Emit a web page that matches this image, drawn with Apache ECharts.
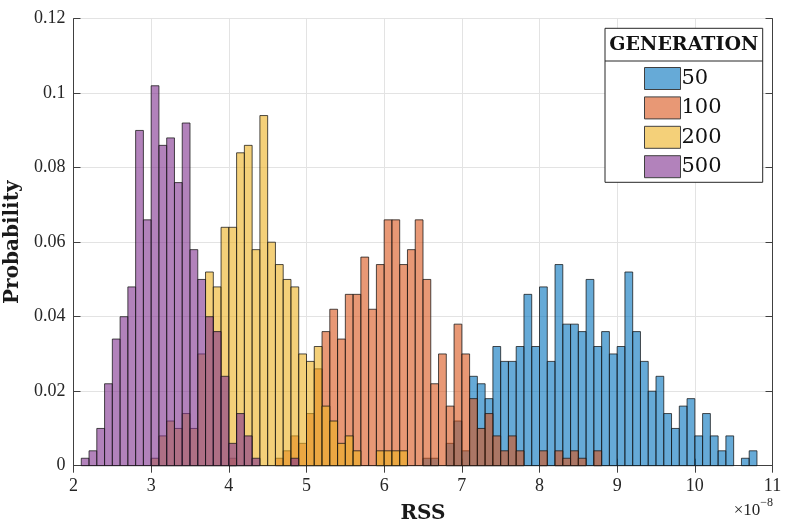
<!DOCTYPE html>
<html>
<head>
<meta charset="utf-8">
<script src="https://cdn.jsdelivr.net/npm/echarts@6/dist/echarts.min.js"></script>
<style>
html,body{margin:0;padding:0;background:#fff;}
#chart{width:785px;height:526px;}
</style>
</head>
<body>
<div id="chart"></div>
<script>
// Bin width (units of 1e-8)
const BIN = 0.1;
const seriesNames = ['50', '100', '200', '500'];
// First bin left edge of each histogram
const gen50Start = 6.5;
const gen100Start = 4.0;
const gen200Start = 3.0;
const gen500Start = 2.1;
// Probabilities per bin
const gen50 = [0.002,0.002,0,0.006,0.012,0.004,
  0.024,0.022,0.018,0.032,0.028,0.028,0.032,0.046,0.032,
  0.048,0.028,0.054,0.038,0.038,0.036,0.050,0.032,0.036,0.030,
  0.032,0.052,0.036,0.028,0.020,0.024,0.014,0.010,0.016,0.018,
  0.008,0.014,0.008,0.004,0.008,0,0.002,0.004];
const gen100 = [0.002,0,0,0,0,0,0.002,0.004,0.008,0.006,
  0.014,0.026,0.036,0.042,0.034,0.046,0.046,0.056,0.042,0.054,
  0.066,0.066,0.054,0.058,0.066,0.050,0.022,0.030,0.016,0.038,
  0.030,0.018,0.010,0.014,0.008,0.004,0.008,0.004,0,0,
  0.004,0,0.004,0.002,0.004,0.002,0,0.004];
const gen200 = [0.002,0.008,0.012,0.010,0.014,0.010,0.030,0.052,0.048,0.064,
  0.064,0.084,0.086,0.058,0.094,0.060,0.054,0.050,0.048,0.030,
  0.028,0.032,0.016,0.012,0.006,0.008,0.004,0,0,0.004,
  0.004,0.004,0.004];
const gen500 = [0.002,0.004,0.010,0.022,0.034,0.040,0.048,0.090,0.066,
  0.102,0.086,0.088,0.076,0.092,0.058,0.050,0.040,0.036,0.024,
  0.006,0.014,0.008,0.002,0,0,0,0,0.002];
const xTicks = [2,3,4,5,6,7,8,9,10,11];
const yTicks = [0,0.02,0.04,0.06,0.08,0.1,0.12];

const colors = ['rgba(0,114,189,0.6)','rgba(217,83,25,0.6)','rgba(237,177,32,0.6)','rgba(126,47,142,0.6)'];
const edge = 'rgba(20,20,20,0.75)';

function toData(start, vals){
  return vals.map((v,i)=>{
    const x0 = +(start + i*BIN).toFixed(4);
    return [x0, v, +(x0+BIN).toFixed(4)];
  }).filter(d=>d[1]>0);
}
const allData = [toData(gen50Start,gen50), toData(gen100Start,gen100), toData(gen200Start,gen200), toData(gen500Start,gen500)];

function makeSeries(idx){
  return {
    name: seriesNames[idx],
    type: 'custom',
    z: 2 + idx,
    itemStyle: {color: colors[idx], borderColor: '#404040', borderWidth: 1},
    encode: {x:[0,2], y:1},
    data: allData[idx],
    renderItem: function(params, api){
      const p0 = api.coord([api.value(0), api.value(1)]);
      const p1 = api.coord([api.value(2), 0]);
      return {
        type:'rect',
        shape:{x:p0[0], y:p0[1], width:p1[0]-p0[0], height:p1[1]-p0[1]},
        style:{fill: colors[idx], stroke: edge, lineWidth: 1}
      };
    }
  };
}

const chart = echarts.init(document.getElementById('chart'), null, {renderer:'canvas'});
const tickFont = 'Liberation Serif';
const axisCol = '#404040';
const option = {
  backgroundColor:'#fff',
  animation:false,
  grid:{left:73.5, right:12.5, top:18.7, bottom:60.3, show:false, containLabel:false, outerBoundsMode:'none'},
  xAxis:[{
    type:'value', min:xTicks[0], max:xTicks[xTicks.length-1], interval:1,
    name:'RSS', nameLocation:'middle', nameGap:38,
    nameTextStyle:{fontFamily:'DejaVu Serif', fontWeight:'bold', fontSize:20, color:'#1a1a1a'},
    axisLine:{show:true, onZero:false, lineStyle:{color:axisCol, width:1}},
    axisTick:{show:true, inside:true, length:7, lineStyle:{color:axisCol}},
    axisLabel:{fontFamily:tickFont, fontSize:18, color:'#262626', margin:12},
    splitLine:{show:true, lineStyle:{color:'#e3e3e3', width:1}}
  },{
    type:'value', position:'top', min:xTicks[0], max:xTicks[xTicks.length-1], interval:1,
    axisLine:{show:true, lineStyle:{color:axisCol, width:1}},
    axisTick:{show:true, inside:true, length:7, lineStyle:{color:axisCol}},
    axisLabel:{show:false}, splitLine:{show:false}
  }],
  yAxis:[{
    type:'value', min:0, max:0.12, interval:0.02,
    name:'Probability', nameLocation:'middle', nameGap:41,
    nameTextStyle:{fontFamily:'DejaVu Serif', fontWeight:'bold', fontSize:20, color:'#1a1a1a'},
    axisLine:{show:true, lineStyle:{color:axisCol, width:1}},
    axisTick:{show:true, inside:true, length:7, lineStyle:{color:axisCol}},
    axisLabel:{fontFamily:tickFont, fontSize:18, color:'#262626', margin:8,
      formatter:function(v){ return String(+v.toFixed(2)); }},
    splitLine:{show:true, lineStyle:{color:'#e3e3e3', width:1}}
  },{
    type:'value', position:'right', min:0, max:0.12, interval:0.02,
    axisLine:{show:true, lineStyle:{color:axisCol, width:1}},
    axisTick:{show:true, inside:true, length:7, lineStyle:{color:axisCol}},
    axisLabel:{show:false}, splitLine:{show:false}
  }],
  legend:{
    data: seriesNames,
    orient:'vertical', left:644, top:67, padding:0,
    itemWidth:36, itemHeight:22, itemGap:6.4,
    icon:'rect', z:20,
    itemStyle:{borderColor:'#404040', borderWidth:1},
    textStyle:{fontFamily:'DejaVu Serif', fontSize:21, color:'#111', padding:[0,0,0,-4]},
    selectedMode:false
  },
  graphic:[
    {type:'rect', z:15, shape:{x:605, y:28.3, width:157.7, height:154}, style:{fill:'#fff', stroke:'#262626', lineWidth:1}},
    {type:'line', z:16, shape:{x1:605, y1:61, x2:762.7, y2:61}, style:{stroke:'#262626', lineWidth:1}},
    {type:'text', z:16, x:683.8, y:45, style:{text:'GENERATION', font:'bold 19px "DejaVu Serif"', fill:'#111', align:'center', verticalAlign:'middle'}},
    {type:'text', z:16, x:773, y:508, style:{
      text:'{a|×10}{b|−8}', align:'right', verticalAlign:'middle',
      rich:{a:{fontFamily:tickFont, fontSize:17, fill:'#262626', verticalAlign:'bottom'},
            b:{fontFamily:tickFont, fontSize:12, fill:'#262626', verticalAlign:'top', padding:[0,0,10,0]}}
    }}
  ],
  series:[makeSeries(0), makeSeries(1), makeSeries(2), makeSeries(3)]
};
chart.setOption(option);
</script>
</body>
</html>
